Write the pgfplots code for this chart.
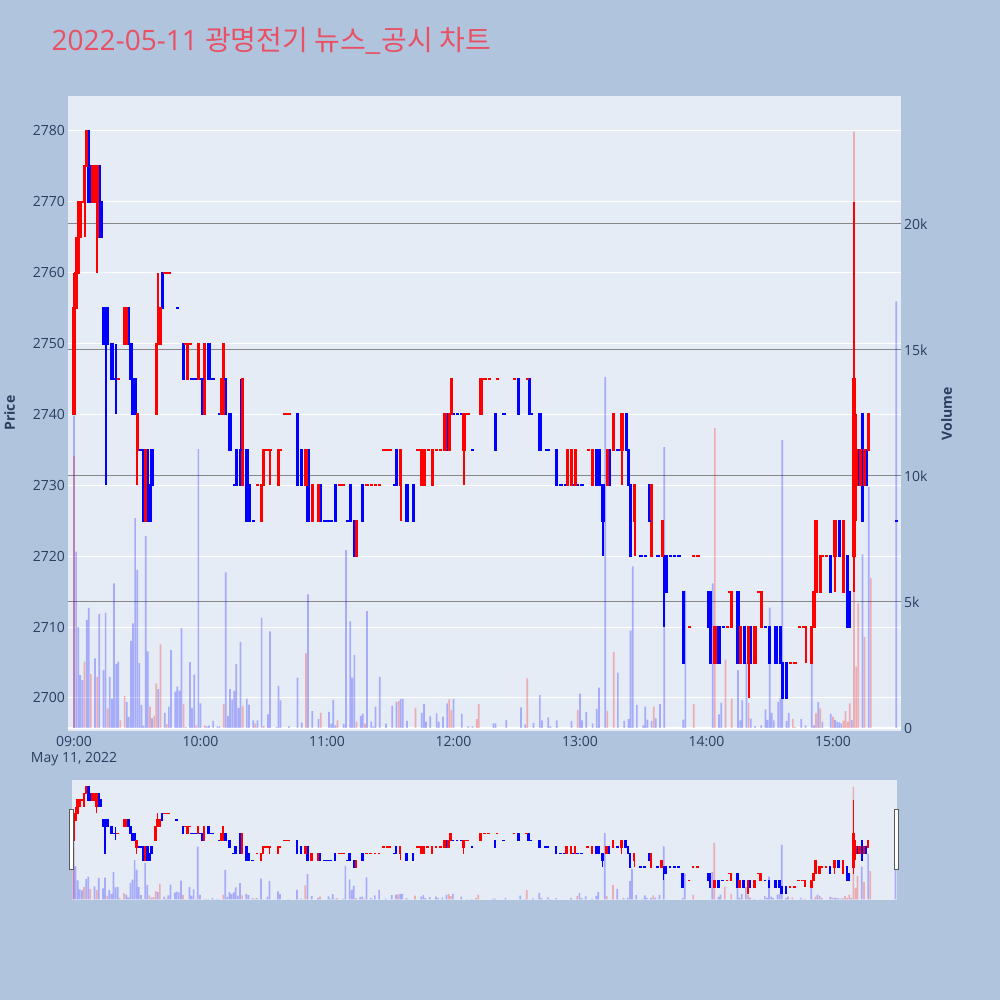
\documentclass[border=0pt]{standalone}
\usepackage{fontspec}
\setmainfont{Open Sans}
\newfontfamily\kr{Noto Sans CJK KR}
\usepackage{pgfplots}
\usepackage{pgfplotstable}
\pgfplotsset{compat=1.18}
\definecolor{pagebg}{HTML}{B0C4DE}
\definecolor{plotbg}{HTML}{E5ECF6}
\definecolor{titlec}{RGB}{233,80,99}
\definecolor{fontc}{HTML}{2A3F5F}
\definecolor{vgray}{RGB}{135,135,138}
\definecolor{upc}{RGB}{255,0,0}
\definecolor{dnc}{RGB}{0,0,255}

\pgfplotstableread{
x o h l c
0 2740 2760 2740 2755
1 2755 2765 2755 2760
2 2760 2770 2760 2770
3 2765 2770 2765 2770
4 2770 2770 2770 2770
5 2770 2775 2765 2775
6 2775 2780 2775 2780
9 2770 2775 2770 2775
10 2770 2775 2770 2775
11 2765 2775 2760 2775
21 2745 2745 2745 2745
24 2750 2755 2750 2755
25 2750 2755 2750 2755
30 2735 2740 2730 2740
34 2725 2735 2725 2735
39 2740 2750 2740 2750
40 2750 2760 2750 2755
41 2750 2755 2750 2755
43 2760 2760 2760 2760
44 2760 2760 2760 2760
45 2760 2760 2760 2760
53 2750 2750 2750 2750
54 2745 2750 2745 2750
55 2750 2750 2750 2750
59 2745 2750 2745 2750
62 2740 2750 2740 2750
70 2740 2745 2740 2745
71 2740 2750 2740 2750
80 2730 2745 2730 2745
87 2730 2730 2730 2730
89 2725 2730 2725 2730
90 2730 2735 2730 2735
91 2735 2735 2735 2735
92 2735 2735 2735 2735
93 2735 2735 2730 2735
97 2730 2735 2730 2735
98 2735 2735 2735 2735
100 2740 2740 2740 2740
101 2740 2740 2740 2740
102 2740 2740 2740 2740
110 2730 2735 2730 2735
113 2725 2730 2725 2730
116 2725 2730 2725 2730
126 2730 2730 2730 2730
127 2730 2730 2730 2730
128 2730 2730 2730 2730
134 2720 2725 2720 2725
139 2730 2730 2730 2730
141 2730 2730 2730 2730
143 2730 2730 2730 2730
145 2730 2730 2730 2730
147 2735 2735 2735 2735
149 2735 2735 2735 2735
150 2735 2735 2735 2735
155 2730 2735 2725 2735
163 2735 2735 2735 2735
164 2735 2735 2735 2735
165 2730 2735 2730 2735
166 2730 2735 2730 2735
168 2735 2735 2735 2735
170 2730 2735 2730 2735
172 2735 2735 2735 2735
174 2735 2735 2735 2735
176 2735 2740 2735 2740
178 2735 2740 2735 2740
179 2740 2745 2740 2745
185 2735 2740 2730 2740
186 2740 2740 2740 2740
187 2740 2740 2740 2740
193 2740 2745 2740 2745
195 2745 2745 2745 2745
197 2745 2745 2745 2745
201 2745 2745 2745 2745
209 2745 2745 2745 2745
215 2745 2745 2745 2745
234 2730 2735 2730 2735
236 2730 2735 2730 2735
238 2730 2735 2730 2735
244 2735 2735 2735 2735
246 2730 2735 2730 2735
253 2730 2735 2730 2735
256 2735 2740 2735 2740
260 2735 2740 2730 2740
266 2725 2730 2720 2730
274 2720 2730 2720 2730
279 2720 2725 2720 2725
292 2710 2710 2710 2710
294 2720 2720 2720 2720
296 2720 2720 2720 2720
304 2705 2710 2705 2710
310 2710 2710 2710 2710
311 2715 2715 2715 2715
312 2710 2715 2710 2715
316 2705 2710 2705 2710
320 2705 2710 2700 2710
323 2705 2710 2705 2710
325 2715 2715 2715 2715
326 2710 2715 2710 2715
340 2705 2705 2705 2705
342 2705 2705 2705 2705
344 2710 2710 2710 2710
346 2710 2710 2710 2710
347 2710 2710 2705 2710
350 2705 2710 2705 2710
351 2710 2715 2710 2715
352 2715 2725 2715 2725
354 2715 2720 2715 2720
355 2720 2720 2720 2720
357 2720 2720 2720 2720
361 2720 2725 2715 2725
365 2715 2725 2715 2725
370 2720 2770 2715 2745
371 2730 2740 2725 2735
373 2730 2735 2730 2735
375 2730 2735 2730 2735
377 2735 2740 2735 2740
}\upT

\pgfplotstableread{
x o h l c
7 2780 2780 2770 2770
8 2775 2775 2770 2770
12 2775 2775 2765 2765
13 2770 2770 2765 2765
14 2755 2755 2750 2750
15 2755 2755 2730 2750
16 2755 2755 2750 2750
18 2750 2750 2745 2745
19 2745 2745 2745 2745
20 2745 2750 2740 2745
26 2755 2755 2750 2750
27 2750 2750 2745 2745
28 2745 2745 2740 2740
29 2745 2745 2740 2740
31 2735 2735 2735 2735
32 2735 2735 2735 2735
33 2735 2735 2725 2725
35 2735 2735 2725 2725
36 2730 2730 2725 2725
37 2735 2735 2730 2730
42 2760 2760 2755 2755
49 2755 2755 2755 2755
52 2750 2750 2745 2745
56 2745 2745 2745 2745
57 2745 2745 2745 2745
58 2745 2745 2745 2745
60 2745 2745 2745 2745
61 2745 2745 2740 2740
64 2750 2750 2745 2745
65 2745 2745 2745 2745
66 2745 2745 2745 2745
69 2740 2740 2740 2740
72 2745 2745 2740 2740
74 2740 2740 2735 2735
76 2730 2730 2730 2730
77 2735 2735 2730 2730
79 2735 2745 2730 2730
82 2735 2735 2725 2725
83 2730 2730 2725 2725
85 2725 2725 2725 2725
106 2740 2740 2730 2730
108 2735 2735 2730 2730
111 2735 2735 2725 2725
117 2730 2730 2725 2725
119 2725 2725 2725 2725
120 2725 2725 2725 2725
121 2725 2725 2725 2725
122 2725 2725 2725 2725
124 2730 2730 2725 2725
130 2725 2725 2725 2725
131 2730 2730 2725 2725
133 2725 2725 2720 2720
137 2730 2730 2725 2725
152 2730 2730 2730 2730
153 2735 2735 2730 2730
158 2730 2730 2725 2725
161 2730 2730 2725 2725
177 2740 2740 2735 2735
180 2740 2740 2740 2740
182 2740 2740 2740 2740
184 2740 2740 2740 2740
189 2735 2735 2735 2735
200 2740 2740 2735 2735
204 2740 2740 2740 2740
211 2745 2745 2740 2740
216 2745 2745 2740 2740
217 2740 2740 2740 2740
221 2740 2740 2735 2735
224 2735 2735 2735 2735
225 2735 2735 2735 2735
229 2735 2735 2730 2730
231 2730 2730 2730 2730
233 2730 2730 2730 2730
237 2730 2730 2730 2730
239 2730 2730 2730 2730
241 2730 2730 2730 2730
248 2735 2735 2730 2730
249 2735 2735 2730 2730
251 2730 2730 2720 2725
254 2735 2735 2730 2730
258 2735 2735 2735 2735
262 2740 2740 2735 2735
263 2735 2735 2730 2730
264 2730 2730 2720 2720
269 2720 2720 2720 2720
271 2720 2720 2720 2720
273 2730 2730 2725 2725
277 2720 2720 2720 2720
280 2720 2720 2710 2720
281 2720 2720 2715 2715
283 2720 2720 2720 2720
285 2720 2720 2720 2720
287 2720 2720 2720 2720
289 2715 2715 2705 2705
301 2715 2715 2710 2710
302 2715 2715 2705 2705
306 2710 2710 2705 2705
308 2710 2710 2710 2710
315 2715 2715 2705 2705
318 2710 2710 2705 2705
321 2710 2710 2705 2705
328 2710 2710 2710 2710
330 2710 2710 2705 2705
333 2710 2710 2705 2705
335 2710 2710 2705 2705
336 2705 2705 2700 2700
338 2705 2705 2700 2700
359 2720 2720 2715 2715
363 2725 2725 2720 2720
367 2720 2720 2710 2710
368 2715 2715 2710 2710
372 2735 2735 2730 2730
374 2740 2740 2725 2725
376 2735 2735 2730 2730
390 2725 2725 2725 2725
}\dnT

\pgfplotstableread{
x v
0 10800
5 2630
8 2140
11 2030
16 780
22 300
24 1270
36 850
38 480
39 1770
41 3320
44 160
52 950
58 100
62 100
71 950
80 860
86 170
90 70
110 2960
117 600
125 300
134 250
138 170
154 1070
162 800
178 1140
179 710
191 350
192 950
215 1970
239 710
253 670
256 3020
275 850
294 950
304 11900
309 2710
312 1170
320 1000
341 360
342 30
352 580
354 780
360 450
365 290
366 670
367 250
368 980
370 23660
371 2450
372 4950
375 3620
378 5950
}\volR

\pgfplotstableread{
x v
0 12400
1 7000
2 4000
3 2100
4 1900
6 4290
7 4770
10 2760
12 4530
14 2300
15 4580
17 2030
18 1170
19 5740
20 2540
21 2630
25 1030
26 440
27 3460
28 4150
29 8330
30 6270
31 2570
32 920
33 90
34 7620
35 3040
37 380
40 1540
43 600
45 850
46 3090
48 1440
49 1640
50 1480
51 3960
53 30
55 2610
56 800
57 2120
59 11070
60 980
63 60
64 90
66 280
68 60
69 60
72 6180
73 480
74 1550
75 1140
76 1470
77 2530
78 800
79 3410
82 1160
83 930
85 300
87 300
89 4380
92 540
93 3830
96 30
97 1670
98 1100
102 60
106 2000
108 210
111 5300
113 670
116 350
121 640
122 170
123 1120
124 100
128 160
129 7060
131 4230
132 2000
133 2900
136 480
137 570
139 4640
141 250
142 60
143 850
145 2030
148 170
151 880
153 1030
155 1160
156 1150
158 280
165 600
166 960
167 250
169 460
172 580
173 250
175 450
177 980
180 1150
184 570
187 60
189 60
199 180
200 180
205 320
212 820
214 140
218 200
221 1300
222 300
225 420
226 60
229 300
236 280
240 1360
241 300
243 640
246 180
248 760
249 1600
252 13930
258 2200
261 280
263 350
264 3860
265 6410
267 920
270 100
271 850
272 330
274 280
276 380
278 950
280 11150
289 330
290 5450
303 5740
306 540
307 1000
315 2300
316 300
317 1100
319 2590
321 370
323 60
326 100
328 740
329 320
330 4780
331 600
332 300
334 1030
335 1170
336 11430
338 280
339 590
345 350
347 100
350 3100
351 100
353 1030
355 250
359 560
361 320
362 250
363 220
364 180
369 320
374 6890
377 9560
390 16930
}\volB

% #1 table, #2 colour, #3 body width, #4 wick width, #5 dash half length, #6 dash thickness
\newcommand{\candleplots}[6]{%
 \addplot[#2, line width=#4, quiver={u=0, v=\thisrow{h}-\thisrow{l}, every arrow/.append style={line width=#4}}] table[x=x, y=l] {#1};
 \addplot[#2, line width=#3, quiver={u=0, v=\thisrow{c}-\thisrow{o}, every arrow/.append style={line width=#3}}] table[x=x, y=o] {#1};
 \addplot[#2, only marks, mark=-, mark size=#5, mark options={line width=#6}] table[x=x, y=o] {#1};
 \addplot[#2, only marks, mark=-, mark size=#5, mark options={line width=#6}] table[x=x, y=c] {#1};
}

\begin{document}
\begin{tikzpicture}
\useasboundingbox (0pt,0pt) rectangle (1000pt,1000pt);
\fill[pagebg] (0pt,0pt) rectangle (1000pt,1000pt);
\node[anchor=base west, inner sep=0pt, text=titlec] at (51.5pt,949.5pt) {\fontsize{28}{34}\selectfont 2022-05-11 {\kr 광명전기 뉴스\_공시 차트}};

\pgfplotsset{mainax/.style={at={(68pt,269pt)}, anchor=south west, scale only axis, width=833pt, height=635pt, xmin=-2.85, xmax=392.3, axis line style={draw=none}, tick style={draw=none}, major tick length=0pt, scaled ticks=false, /pgf/number format/assume math mode=true, tick label style={font=\fontsize{14}{16}\selectfont, text=fontc}},
 sliderax/.style={at={(72pt,100pt)}, anchor=south west, scale only axis, width=825pt, height=120pt, xmin=-0.7, xmax=390.7, axis line style={draw=none}, xtick=\empty, ytick=\empty, scaled ticks=false}}

% price axis: background, grid, labels
\begin{axis}[mainax, ymin=2695.34, ymax=2784.94,
  axis background/.style={fill=plotbg},
  ytick={2700,2710,...,2780}, yticklabels={2700,2710,2720,2730,2740,2750,2760,2770,2780},
  ymajorgrids, major grid style={white, line width=1pt},
  xtick={0,60,120,180,240,300,360},
  xticklabels={{09:00\\May 11, 2022},10:00,11:00,12:00,13:00,14:00,15:00},
  yticklabel style={anchor=east, inner sep=0pt, xshift=-3pt},
  xticklabel style={anchor=north, inner sep=0pt, yshift=-5pt, align=center}]
\addplot[draw=none] coordinates {(0,2740)};
\end{axis}

% volume axis
\begin{axis}[mainax, ymin=-119, ymax=25079,
  xtick=\empty,
  ytick={5000,10000,15000,20000}, yticklabels={5k,10k,15k,20k},
  extra y ticks={0}, extra y tick labels={0},
  extra y tick style={major grid style={white, line width=1.5pt}},
  ymajorgrids, major grid style={vgray, line width=1pt},
  yticklabel pos=right,
  yticklabel style={anchor=west, inner sep=0pt, xshift=3pt}]
\addplot[ybar, bar width=1.7pt, fill=dnc, fill opacity=0.27, draw=none] table[x=x, y=v] {\volB};
\addplot[ybar, bar width=1.7pt, fill=upc, fill opacity=0.27, draw=none] table[x=x, y=v] {\volR};
\end{axis}

% candles
\begin{axis}[mainax, ymin=2695.34, ymax=2784.94, hide axis]
\candleplots{\dnT}{dnc}{3.3pt}{2pt}{1.65pt}{2pt}
\candleplots{\upT}{upc}{3.3pt}{2pt}{1.65pt}{2pt}
\end{axis}

% range slider
\begin{axis}[sliderax, ymin=-119, ymax=25079, axis background/.style={fill=plotbg}]
\addplot[ybar, bar width=1.7pt, fill=dnc, fill opacity=0.27, draw=none] table[x=x, y=v] {\volB};
\addplot[ybar, bar width=1.7pt, fill=upc, fill opacity=0.27, draw=none] table[x=x, y=v] {\volR};
\end{axis}
\begin{axis}[sliderax, ymin=2695.34, ymax=2784.94, hide axis]
\candleplots{\dnT}{dnc}{2.6pt}{1.2pt}{1.3pt}{1.3pt}
\candleplots{\upT}{upc}{2.6pt}{1.2pt}{1.3pt}{1.3pt}
\end{axis}

\draw[fill=white, draw=gray!70!black, line width=1pt] (69.5pt,130pt) rectangle (73.5pt,190pt);
\draw[fill=white, draw=gray!70!black, line width=1pt] (894.7pt,130pt) rectangle (898.7pt,190pt);

\node[rotate=90, text=fontc, font=\bfseries\fontsize{14}{16}\selectfont] at (9.5pt,587pt) {Price};
\node[rotate=90, text=fontc, font=\bfseries\fontsize{14}{16}\selectfont] at (946.5pt,586pt) {Volume};
\end{tikzpicture}
\end{document}
